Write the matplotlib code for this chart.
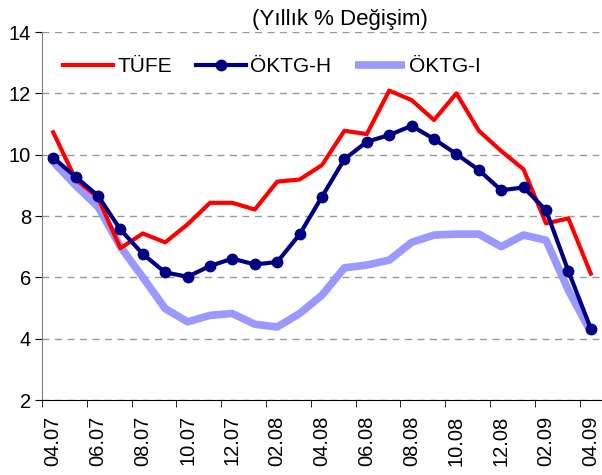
import numpy as np
import matplotlib.pyplot as plt

plt.rcParams['font.family'] = ['Liberation Sans', 'DejaVu Sans']

months = ["04.07", "05.07", "06.07", "07.07", "08.07", "09.07", "10.07", "11.07",
          "12.07", "01.08", "02.08", "03.08", "04.08", "05.08", "06.08", "07.08",
          "08.08", "09.08", "10.08", "11.08", "12.08", "01.09", "02.09", "03.09", "04.09"]

tufe = [10.73, 9.2, 8.6, 6.95, 7.43, 7.14, 7.73, 8.43, 8.43, 8.21, 9.12, 9.19, 9.66,
        10.78, 10.67, 12.09, 11.78, 11.13, 12.0, 10.78, 10.12, 9.52, 7.76, 7.92, 6.12]
oktg_h = [9.90, 9.28, 8.66, 7.56, 6.76, 6.16, 6.02, 6.37, 6.61, 6.42, 6.50, 7.40, 8.63,
          9.85, 10.42, 10.64, 10.94, 10.51, 10.02, 9.50, 8.84, 8.93, 8.19, 6.20, 4.33]
oktg_i = [9.77, 9.0, 8.3, 7.0, 6.0, 4.98, 4.55, 4.76, 4.82, 4.47, 4.38, 4.82, 5.42,
          6.31, 6.40, 6.56, 7.14, 7.38, 7.41, 7.41, 7.0, 7.38, 7.21, 5.58, 4.22]


def main():
    fig = plt.figure(figsize=(6.02, 4.75), dpi=100)
    ax = fig.add_axes([42 / 602, 75 / 475, 560 / 602, 368 / 475])

    x = np.arange(len(months))
    ax.plot(x, oktg_i, color="#9999ff", lw=5.5, label="ÖKTG-I", zorder=2,
            solid_capstyle="butt")
    ax.plot(x, tufe, color="#ff0000", lw=3, label="TÜFE", zorder=3)
    ax.plot(x, oktg_h, color="#000080", lw=3, marker="o", ms=7.5,
            label="ÖKTG-H", zorder=4)

    ax.set_xlim(-0.5, len(months) - 0.5)
    ax.set_ylim(2, 14)
    ax.set_yticks(np.arange(2, 15, 2))
    ax.yaxis.grid(True, color="#999999", ls=(0, (5, 4)), lw=1)

    ax.set_xticks(x[::2])
    ax.set_xticklabels(months[::2], rotation=90)
    ax.set_xticks(np.arange(-0.5, len(months), 2), minor=True)
    ax.tick_params(axis="x", which="major", length=0, pad=11, labelsize=14.5)
    ax.tick_params(axis="x", which="minor", length=5, direction="out")
    ax.tick_params(axis="y", length=5, labelsize=14.5, pad=3)

    for s in ["top", "right"]:
        ax.spines[s].set_visible(False)
    ax.spines["left"].set_color("#808080")

    h, l = ax.get_legend_handles_labels()
    order = [1, 2, 0]
    fig.legend([h[i] for i in order], [l[i] for i in order], loc="center left",
               ncol=3, frameon=False, fontsize=15, handlelength=2.4,
               columnspacing=1.15, handletextpad=0.2, borderpad=0,
               borderaxespad=0, bbox_to_anchor=(63 / 602, 1 - 67 / 475))

    fig.text(340 / 602, 1 - 19 / 475, "(Yıllık % Değişim)", ha="center",
             va="center", fontsize=16)

    fig.savefig("out.png", dpi=100)


if __name__ == "__main__":
    main()
